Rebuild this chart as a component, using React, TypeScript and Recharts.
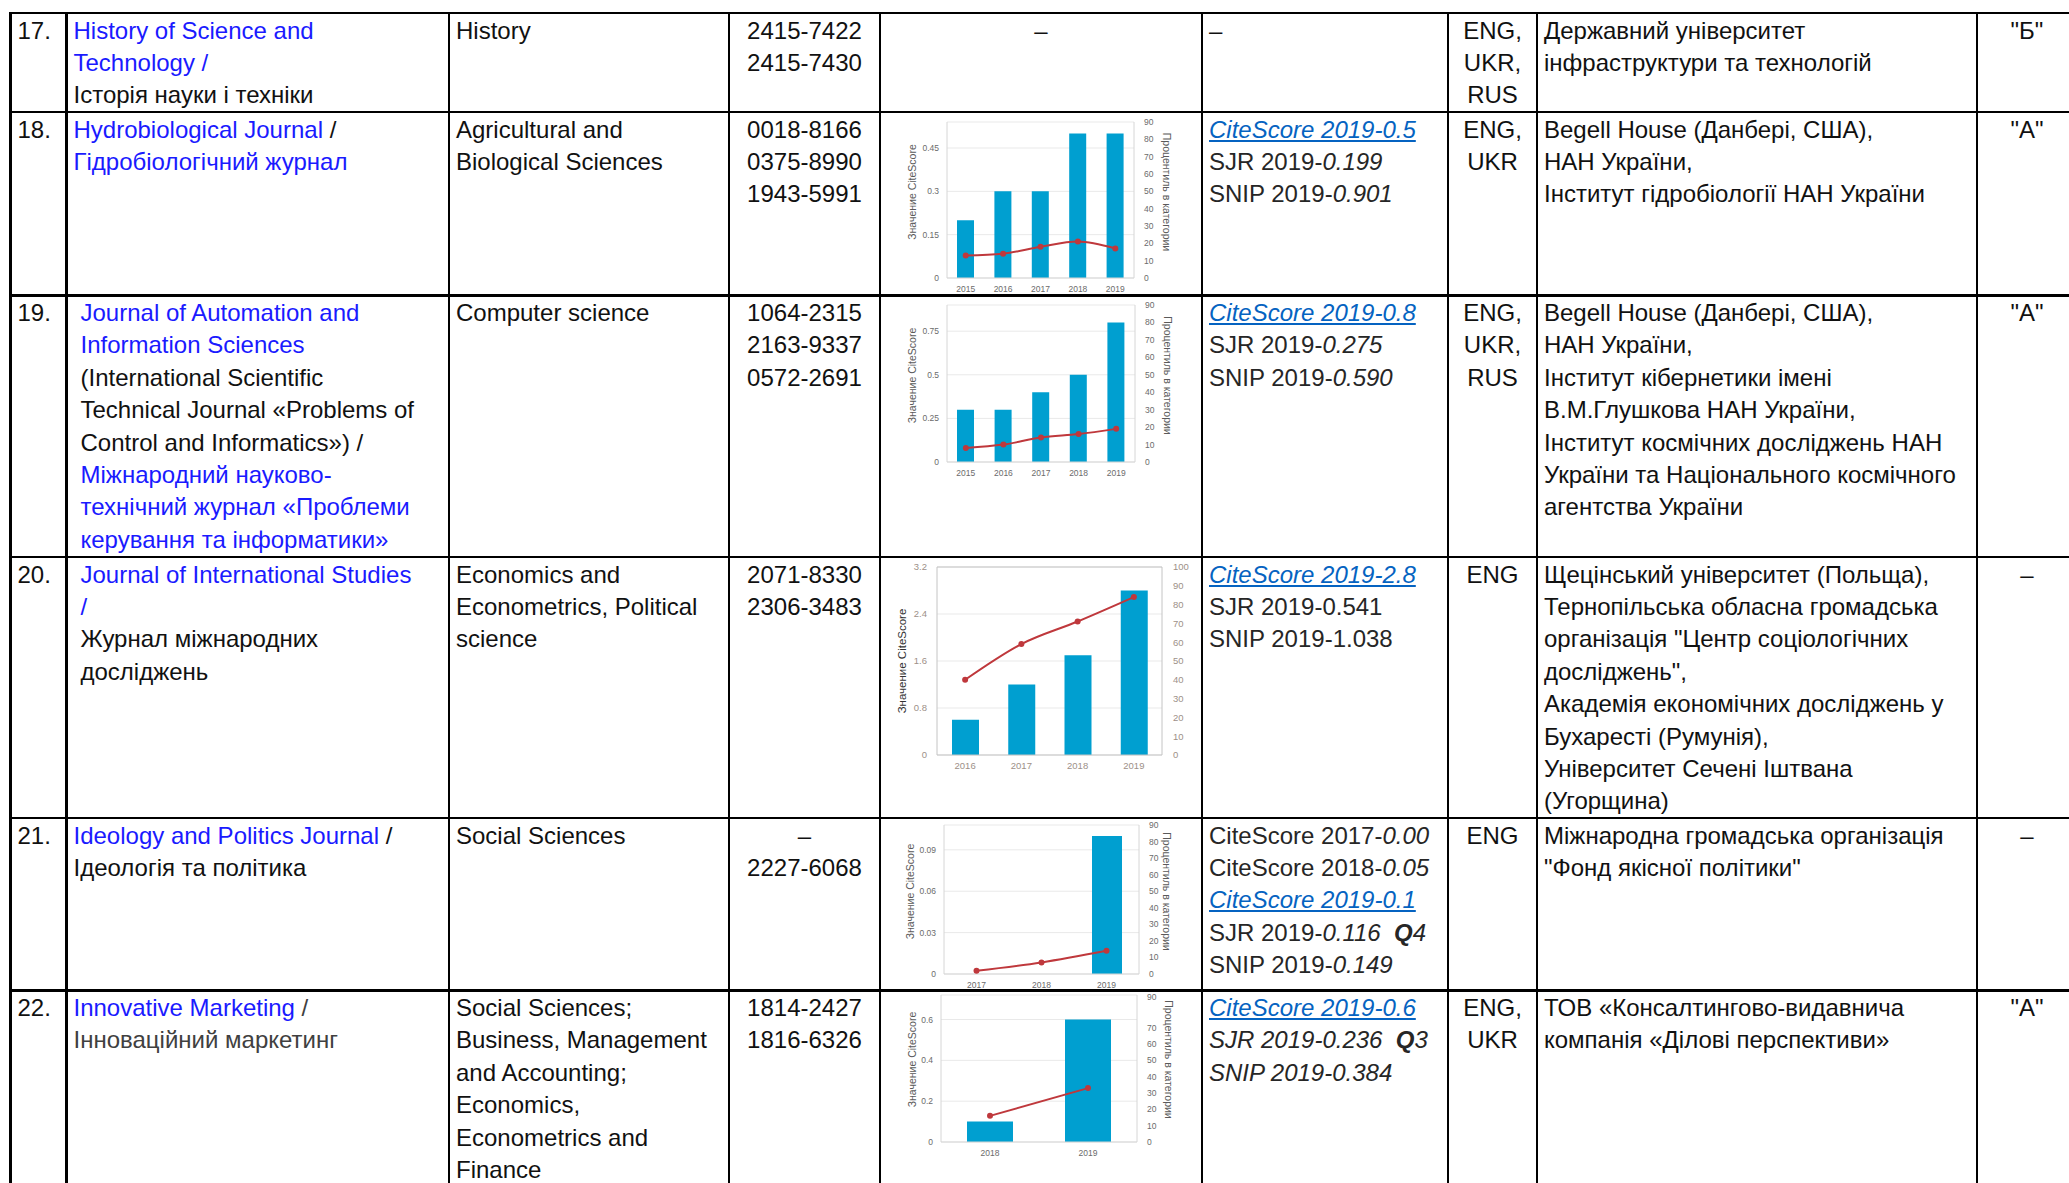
import React from 'react';
import { ComposedChart, Bar, Line, XAxis, YAxis, CartesianGrid, ReferenceLine, Label } from 'recharts';

const FONT = '"Liberation Sans", Arial, sans-serif';
const CHART_FONT = '"Liberation Sans", Arial, sans-serif';
const BLUE = '#1a1aff';
const LINK = '#0563c1';
const INK = '#111111';
const GREY = '#404040';
const BAR = '#009fd0';
const RED = '#bf383c';

// chart values
const years18 = ['2015', '2016', '2017', '2018', '2019'];
const citeScore18 = [0.2, 0.3, 0.3, 0.5, 0.5];
const percentile18 = [13, 14, 18, 21, 17];

const years19 = ['2015', '2016', '2017', '2018', '2019'];
const citeScore19 = [0.3, 0.3, 0.4, 0.5, 0.8];
const percentile19 = [8, 10, 14, 16, 19];

const years20 = ['2016', '2017', '2018', '2019'];
const citeScore20 = [0.6, 1.2, 1.7, 2.8];
const percentile20 = [40, 59, 71, 84];

const years21 = ['2017', '2018', '2019'];
const citeScore21 = [null, null, 0.1];
const percentile21 = [2, 7, 14];

const years22 = ['2018', '2019'];
const citeScore22 = [0.1, 0.6];
const percentile22 = [16, 33];

const leftTicks18 = [0, 0.15, 0.3, 0.45];
const leftTicks19 = [0, 0.25, 0.5, 0.75];
const leftTicks20 = [0, 0.8, 1.6, 2.4, 3.2];
const leftTicks21 = [0, 0.03, 0.06, 0.09];
const leftTicks22 = [0, 0.2, 0.4, 0.6];
const pctTicks90 = [0, 10, 20, 30, 40, 50, 60, 70, 80, 90];
const pctTicks100 = [0, 10, 20, 30, 40, 50, 60, 70, 80, 90, 100];

// table grid (page px)
const ROW_Y = [13, 112, 295.5, 557, 818, 990.5];
const COL_X = [10.5, 66.5, 449, 729, 880, 1202, 1448, 1537, 1977, 2077];
const LINE_H = 32.4;
const TEXT_DY = 1.5;
const PAD = 7;

function sideTitle(text: string, x: number, y: number, angle: number, size: number, color: string, family: string) {
  return (
    <Label
      content={() => (
        <text
          x={x}
          y={y}
          transform={`rotate(${angle} ${x} ${y})`}
          textAnchor="middle"
          dominantBaseline="central"
          fontSize={size}
          fill={color}
          fontFamily={family}
        >
          {text}
        </text>
      )}
    />
  );
}

function MiniChart(p: any) {
  const data = p.years.map((year: string, i: number) => ({ year, cite: p.cite[i], pct: p.pct[i] }));
  const plotMid = p.mt + (p.h - p.mt - p.xh) / 2;
  const tick = { fontSize: p.tickSize || 8.5, fill: p.tickColor || '#6b6b6b', fontFamily: CHART_FONT };
  const axisStroke = p.axisColor || '#d6d6d6';
  return (
    <div style={{ position: 'absolute', left: p.x, top: p.y, width: p.w, height: p.h }}>
      <ComposedChart width={p.w} height={p.h} data={data} margin={{ top: p.mt, right: 0, bottom: 0, left: 0 }}>
        <CartesianGrid vertical={false} yAxisId="l" stroke="#e9e9e9" />
        <XAxis
          dataKey="year"
          height={p.xh}
          tickLine={false}
          tickSize={0}
          tickMargin={p.xMargin || 8}
          axisLine={{ stroke: axisStroke }}
          tick={tick}
          interval={0}
        />
        <YAxis
          yAxisId="l"
          orientation="left"
          width={p.lw}
          type="number"
          domain={[0, p.lmax]}
          ticks={p.lticks}
          allowDataOverflow
          tickLine={false}
          tickSize={0}
          tickMargin={p.lMargin || 8}
          axisLine={{ stroke: axisStroke }}
          tick={tick}
          label={sideTitle(
            'Значение CiteScore',
            p.ltOff,
            plotMid + p.tdy,
            -90,
            p.ltSize || 10.5,
            p.ltColor || '#5a5a5a',
            p.ltFont || CHART_FONT
          )}
        />
        <YAxis
          yAxisId="r"
          orientation="right"
          width={p.rw}
          type="number"
          domain={[0, p.rmax]}
          ticks={p.rticks}
          allowDataOverflow
          tickLine={false}
          tickSize={0}
          tickMargin={p.rMargin || 10}
          axisLine={{ stroke: axisStroke }}
          tick={tick}
          label={
            p.noRightTitle
              ? undefined
              : sideTitle('Процентиль в категории', p.w - p.rtOff, plotMid + p.tdy, 90, 10.5, '#5a5a5a', CHART_FONT)
          }
        />
        {p.boxed ? <ReferenceLine yAxisId="l" y={p.lmax} stroke={axisStroke} /> : null}
        <Bar yAxisId="l" dataKey="cite" fill={BAR} barSize={p.bar} isAnimationActive={false} />
        <Line
          yAxisId="r"
          dataKey="pct"
          type="monotone"
          stroke={RED}
          strokeWidth={2}
          dot={{ r: 3, fill: RED, stroke: RED, strokeWidth: 0 }}
          isAnimationActive={false}
        />
      </ComposedChart>
    </div>
  );
}

function Cell({ col, row, align = 'left', indent = 0, color = INK, children }: any) {
  const x0 = COL_X[col];
  const x1 = COL_X[col + 1];
  const style: React.CSSProperties = {
    position: 'absolute',
    top: ROW_Y[row] + TEXT_DY,
    left: align === 'left' ? x0 + PAD + indent : x0,
    width: align === 'left' ? undefined : x1 - x0,
    textAlign: align,
    whiteSpace: 'nowrap',
    color,
  };
  return <div style={style}>{children}</div>;
}

const L = ({ children }: any) => <div>{children}</div>;
const B = ({ children }: any) => <span style={{ color: BLUE }}>{children}</span>;
const I = ({ children }: any) => <span style={{ fontStyle: 'italic' }}>{children}</span>;
const Q = ({ q }: any) => (
  <span style={{ fontStyle: 'italic' }}>
    <span style={{ fontWeight: 'bold' }}>Q</span>
    {q}
  </span>
);
const Link = ({ children }: any) => (
  <span style={{ color: LINK, fontStyle: 'italic', textDecoration: 'underline' }}>{children}</span>
);

function Grid() {
  const t = 2.5;
  const out: any[] = [];
  ROW_Y.forEach((y, i) =>
    out.push(
      <div
        key={'h' + i}
        style={{ position: 'absolute', left: COL_X[0] - t / 2, top: y - t / 2, width: COL_X[9] - COL_X[0] + t, height: t, background: '#000' }}
      />
    )
  );
  COL_X.forEach((x, i) =>
    out.push(
      <div
        key={'v' + i}
        style={{ position: 'absolute', left: x - t / 2, top: ROW_Y[0] - t / 2, width: t, height: 1183, background: '#000' }}
      />
    )
  );
  return <>{out}</>;
}

export default function App() {
  return (
    <div
      style={{
        position: 'absolute',
        left: 0,
        top: 0,
        width: 2069,
        height: 1183,
        overflow: 'hidden',
        background: '#fff',
        fontFamily: FONT,
        fontSize: 24,
        lineHeight: `${LINE_H}px`,
      }}
    >
      <Grid />

      {/* numbers */}
      {['17.', '18.', '19.', '20.', '21.', '22.'].map((n, i) => (
        <Cell key={n} col={0} row={i}>
          <L>{n}</L>
        </Cell>
      ))}

      {/* titles */}
      <Cell col={1} row={0}>
        <L><B>History of Science and</B></L>
        <L><B>Technology /</B></L>
        <L>Історія науки і техніки</L>
      </Cell>
      <Cell col={1} row={1}>
        <L><B>Hydrobiological Journal</B> /</L>
        <L><B>Гідробіологічний журнал</B></L>
      </Cell>
      <Cell col={1} row={2} indent={7}>
        <L><B>Journal of Automation and</B></L>
        <L><B>Information Sciences</B></L>
        <L>(International Scientific</L>
        <L>Technical Journal «Problems of</L>
        <L>Control and Informatics») /</L>
        <L><B>Міжнародний науково-</B></L>
        <L><B>технічний журнал «Проблеми</B></L>
        <L><B>керування та інформатики»</B></L>
      </Cell>
      <Cell col={1} row={3} indent={7}>
        <L><B>Journal of International Studies</B></L>
        <L><B>/</B></L>
        <L>Журнал міжнародних</L>
        <L>досліджень</L>
      </Cell>
      <Cell col={1} row={4}>
        <L><B>Ideology and Politics Journal</B> /</L>
        <L>Ідеологія та політика</L>
      </Cell>
      <Cell col={1} row={5} color={GREY}>
        <L><B>Innovative Marketing</B> /</L>
        <L>Інноваційний маркетинг</L>
      </Cell>

      {/* subject areas */}
      <Cell col={2} row={0}><L>History</L></Cell>
      <Cell col={2} row={1}>
        <L>Agricultural and</L>
        <L>Biological Sciences</L>
      </Cell>
      <Cell col={2} row={2}><L>Computer science</L></Cell>
      <Cell col={2} row={3}>
        <L>Economics and</L>
        <L>Econometrics, Political</L>
        <L>science</L>
      </Cell>
      <Cell col={2} row={4}><L>Social Sciences</L></Cell>
      <Cell col={2} row={5}>
        <L>Social Sciences;</L>
        <L>Business, Management</L>
        <L>and Accounting;</L>
        <L>Economics,</L>
        <L>Econometrics and</L>
        <L>Finance</L>
      </Cell>

      {/* ISSN */}
      <Cell col={3} row={0} align="center"><L>2415-7422</L><L>2415-7430</L></Cell>
      <Cell col={3} row={1} align="center"><L>0018-8166</L><L>0375-8990</L><L>1943-5991</L></Cell>
      <Cell col={3} row={2} align="center"><L>1064-2315</L><L>2163-9337</L><L>0572-2691</L></Cell>
      <Cell col={3} row={3} align="center"><L>2071-8330</L><L>2306-3483</L></Cell>
      <Cell col={3} row={4} align="center"><L>–</L><L>2227-6068</L></Cell>
      <Cell col={3} row={5} align="center"><L>1814-2427</L><L>1816-6326</L></Cell>

      {/* charts */}
      <Cell col={4} row={0} align="center"><L>–</L></Cell>
      <MiniChart
        x={890} y={114} w={300} h={180} mt={8} xh={16} lw={57} rw={56}
        years={years18} cite={citeScore18} pct={percentile18}
        lmax={0.54} lticks={leftTicks18} rmax={90} rticks={pctTicks90}
        bar={17} ltOff={22} rtOff={23} tdy={-8}
      />
      <MiniChart
        x={890} y={298} w={300} h={180} mt={7} xh={16} lw={57} rw={55}
        years={years19} cite={citeScore19} pct={percentile19}
        lmax={0.9} lticks={leftTicks19} rmax={90} rticks={pctTicks90}
        bar={17} ltOff={22} rtOff={22} tdy={-8}
      />
      <MiniChart
        x={880} y={560} w={320} h={215} mt={7} xh={20} lw={57} rw={38}
        years={years20} cite={citeScore20} pct={percentile20}
        lmax={3.2} lticks={leftTicks20} rmax={100} rticks={pctTicks100}
        bar={27} ltOff={22} tdy={0} noRightTitle boxed
        tickSize={9.5} tickColor="#9d9088" axisColor="#c4c4c4"
        lMargin={10} rMargin={11} xMargin={7}
        ltSize={11.5} ltColor="#333"
      />
      <MiniChart
        x={890} y={818} w={300} h={172} mt={7} xh={16} lw={54} rw={51}
        years={years21} cite={citeScore21} pct={percentile21}
        lmax={0.108} lticks={leftTicks21} rmax={90} rticks={pctTicks90}
        bar={30} ltOff={20} rtOff={23} tdy={-8}
      />
      <MiniChart
        x={890} y={992} w={300} h={168} mt={3} xh={18} lw={51} rw={53}
        years={years22} cite={citeScore22} pct={percentile22}
        lmax={0.72} lticks={leftTicks22} rmax={90} rticks={pctTicks90}
        bar={46} ltOff={22} rtOff={21} tdy={-9}
      />

      {/* metrics */}
      <Cell col={5} row={0}><L>–</L></Cell>
      <Cell col={5} row={1} color="#262626">
        <L><Link>CiteScore 2019-0.5</Link></L>
        <L>SJR 2019-<I>0.199</I></L>
        <L>SNIP 2019-<I>0.901</I></L>
      </Cell>
      <Cell col={5} row={2} color="#262626">
        <L><Link>CiteScore 2019-0.8</Link></L>
        <L>SJR 2019-<I>0.275</I></L>
        <L>SNIP 2019-<I>0.590</I></L>
      </Cell>
      <Cell col={5} row={3} color="#262626">
        <L><Link>CiteScore 2019-2.8</Link></L>
        <L>SJR 2019-0.541</L>
        <L>SNIP 2019-1.038</L>
      </Cell>
      <Cell col={5} row={4} color="#262626">
        <L>CiteScore 2017-<I>0.00</I></L>
        <L>CiteScore 2018-<I>0.05</I></L>
        <L><Link>CiteScore 2019-0.1</Link></L>
        <L>SJR 2019-<I>0.116</I>{'\u00a0\u00a0'}<Q q="4" /></L>
        <L>SNIP 2019-<I>0.149</I></L>
      </Cell>
      <Cell col={5} row={5} color="#262626">
        <L><Link>CiteScore 2019-0.6</Link></L>
        <L><I>SJR 2019-0.236{'\u00a0\u00a0'}</I><Q q="3" /></L>
        <L><I>SNIP 2019-0.384</I></L>
      </Cell>

      {/* languages */}
      <Cell col={6} row={0} align="center"><L>ENG,</L><L>UKR,</L><L>RUS</L></Cell>
      <Cell col={6} row={1} align="center"><L>ENG,</L><L>UKR</L></Cell>
      <Cell col={6} row={2} align="center"><L>ENG,</L><L>UKR,</L><L>RUS</L></Cell>
      <Cell col={6} row={3} align="center"><L>ENG</L></Cell>
      <Cell col={6} row={4} align="center"><L>ENG</L></Cell>
      <Cell col={6} row={5} align="center"><L>ENG,</L><L>UKR</L></Cell>

      {/* publishers */}
      <Cell col={7} row={0}>
        <L>Державний університет</L>
        <L>інфраструктури та технологій</L>
      </Cell>
      <Cell col={7} row={1}>
        <L>Begell House (Данбері, США),</L>
        <L>НАН України,</L>
        <L>Інститут гідробіології НАН України</L>
      </Cell>
      <Cell col={7} row={2}>
        <L>Begell House (Данбері, США),</L>
        <L>НАН України,</L>
        <L>Інститут кібернетики імені</L>
        <L>В.М.Глушкова НАН України,</L>
        <L>Інститут космічних досліджень НАН</L>
        <L>України та Національного космічного</L>
        <L>агентства України</L>
      </Cell>
      <Cell col={7} row={3}>
        <L>Щецінський університет (Польща),</L>
        <L>Тернопільська обласна громадська</L>
        <L>організація "Центр соціологічних</L>
        <L>досліджень",</L>
        <L>Академія економічних досліджень у</L>
        <L>Бухаресті (Румунія),</L>
        <L>Університет Сечені Іштвана</L>
        <L>(Угорщина)</L>
      </Cell>
      <Cell col={7} row={4}>
        <L>Міжнародна громадська організація</L>
        <L>"Фонд якісної політики"</L>
      </Cell>
      <Cell col={7} row={5}>
        <L>ТОВ «Консалтингово-видавнича</L>
        <L>компанія «Ділові перспективи»</L>
      </Cell>

      {/* category */}
      <Cell col={8} row={0} align="center"><L>"Б"</L></Cell>
      <Cell col={8} row={1} align="center"><L>"А"</L></Cell>
      <Cell col={8} row={2} align="center"><L>"А"</L></Cell>
      <Cell col={8} row={3} align="center"><L>–</L></Cell>
      <Cell col={8} row={4} align="center"><L>–</L></Cell>
      <Cell col={8} row={5} align="center"><L>"А"</L></Cell>
    </div>
  );
}
